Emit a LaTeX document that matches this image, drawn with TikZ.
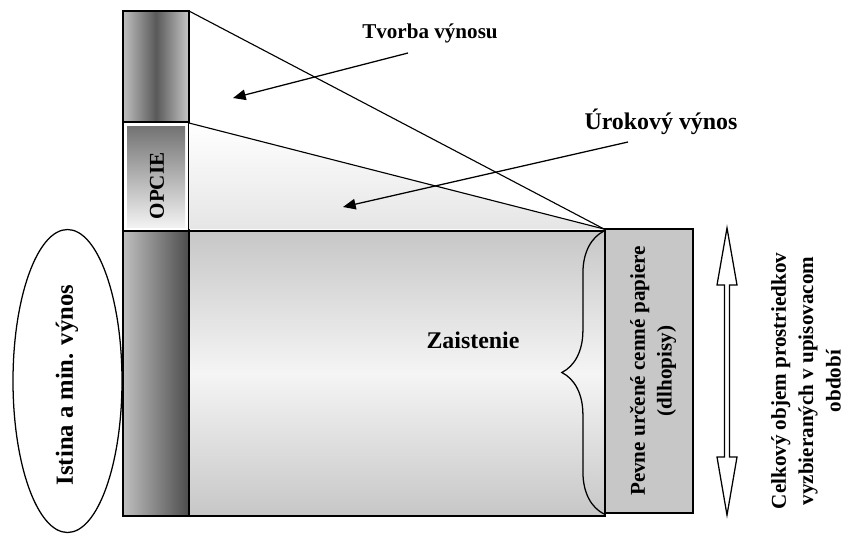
\documentclass[tikz,border=0pt]{standalone}
\usepackage{fontspec}
\setmainfont{Liberation Serif}
\usetikzlibrary{decorations.pathreplacing, arrows.meta}

\begin{document}
\begin{tikzpicture}[
    x=0.025cm, y=-0.025cm,
    box/.style={draw, line width=0.9pt},
    lbl/.style={font=\bfseries\fontsize{15}{19}\selectfont, inner sep=0pt},
    biglbl/.style={font=\bfseries\fontsize{17}{20}\selectfont, inner sep=0pt},
    arr/.style={-{Triangle[length=9pt,width=7.5pt]}, line width=0.9pt}
]
\useasboundingbox (0,0) rectangle (846,533);

% left column
\shade[left color=black!25, right color=black!22, middle color=black!65] (123,11) rectangle (189,122);
\draw[box] (123,11) rectangle (189,122);
\draw[box, fill=white] (123,122) rectangle (189,231);
\shade[shading angle=135, top color=black!55, bottom color=black!5] (127,126) rectangle (185,227);
\shade[left color=black!25, right color=black!70] (123,231) rectangle (189,516);
\draw[box] (123,231) rectangle (189,516);

% triangles
\shade[top color=white, bottom color=black!10] (189,123) -- (604,229) -- (189,229) -- cycle;
\draw[line width=0.8pt] (189,11) -- (604,229);
\draw[line width=0.8pt] (189,123) -- (604,229);
\draw[line width=0.8pt] (189,123) -- (189,11);

% Zaistenie block
\shade[top color=black!22, bottom color=black!22, middle color=black!4] (189,231) rectangle (605,516);
\draw[box] (189,231) rectangle (605,516);
\draw[box, fill=black!22] (605,229) rectangle (693,513);

\draw[decorate, decoration={brace, amplitude=30pt}, line width=0.9pt] (604,514) -- (604,231);

% double arrow
\draw[line width=0.9pt, fill=white] (727,228) -- (737,285) -- (729.5,285) -- (729.5,457) -- (737,457)
    -- (727,515) -- (717,457) -- (724.5,457) -- (724.5,285) -- (717,285) -- cycle;

% ellipse
\draw[line width=0.9pt] (67.5,381) ellipse [x radius=54.5, y radius=151.5];

% labels
\node[lbl] (tvorba) at (430,33) {Tvorba výnosu};
\node[biglbl] (urok) at (661,122) {Úrokový výnos};
\node[biglbl] (zaist) at (473,340) {Zaistenie};
\node[lbl, rotate=90] (opcie) at (157,186) {OPCIE};
\node[lbl, rotate=90, font=\bfseries\fontsize{17.5}{20}\selectfont] (istina) at (67,385) {Istina a min. výnos};
\node[lbl, rotate=90, align=center] (pevne) at (653,371) {Pevne určené cenné papiere\\(dlhopisy)};
\node[lbl, rotate=90, align=center, font=\bfseries\fontsize{15}{19.5}\selectfont] (celk) at (806,381)
    {Celkový objem prostriedkov\\vyzbieraných v upisovacom\\období};

% arrows
\coordinate (tvS) at (408,53);
\coordinate (tvE) at (233,98);
\coordinate (urS) at (628,142);
\coordinate (urE) at (343,207);
\draw[arr] (tvS) -- (tvE);
\draw[arr] (urS) -- (urE);

\end{tikzpicture}
\end{document}
